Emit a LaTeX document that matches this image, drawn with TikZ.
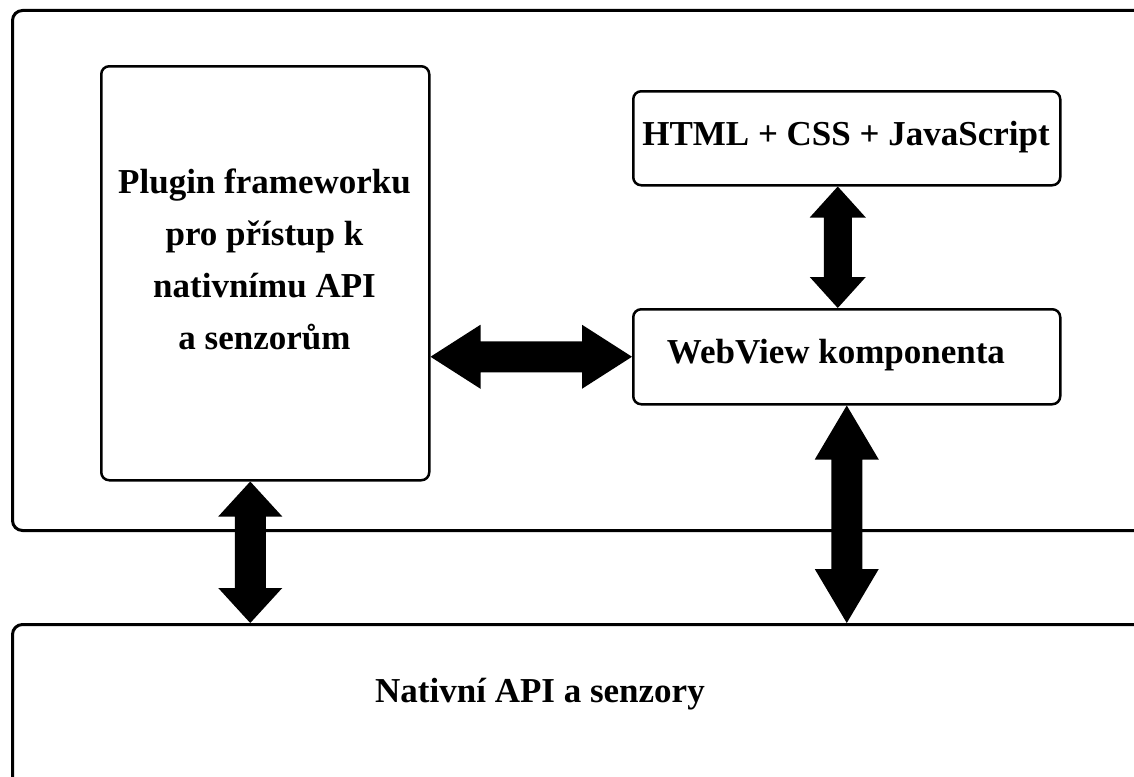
\documentclass[tikz,border=0pt]{standalone}
\usepackage{fontspec}
\setmainfont{Liberation Serif}
\usetikzlibrary{calc}

% Fat double-headed arrow between two points, vertical or horizontal.
% #1 first end, #2 second end, #3 head half width, #4 shaft half width, #5 head length
\newcommand\vbiarrow[5]{%
  \fill let \p1=#1, \p2=#2 in
    (\x1,\y1) -- (\x1+#3,\y1-#5) -- (\x1+#4,\y1-#5) -- (\x1+#4,\y2+#5)
    -- (\x1+#3,\y2+#5) -- (\x1,\y2) -- (\x1-#3,\y2+#5) -- (\x1-#4,\y2+#5)
    -- (\x1-#4,\y1-#5) -- (\x1-#3,\y1-#5) -- cycle;}
\newcommand\hbiarrow[5]{%
  \fill let \p1=#1, \p2=#2 in
    (\x1,\y1) -- (\x1+#5,\y1+#3) -- (\x1+#5,\y1+#4) -- (\x2-#5,\y1+#4)
    -- (\x2-#5,\y1+#3) -- (\x2,\y1) -- (\x2-#5,\y1-#3) -- (\x2-#5,\y1-#4)
    -- (\x1+#5,\y1-#4) -- (\x1+#5,\y1-#3) -- cycle;}

\begin{document}
\begin{tikzpicture}[x=1pt,y=-1pt,
  frame/.style={draw=black, line width=3pt, rounded corners=10pt,
    anchor=north west, inner sep=0pt},
  box/.style={draw=black, line width=2.5pt, rounded corners=8pt,
    anchor=north west, inner sep=0pt},
  lbl/.style={font=\bfseries\fontsize{35}{52}\selectfont, align=center,
    inner sep=0pt, anchor=base}]
\useasboundingbox (0,0) rectangle (1134,776);
\begin{scope}
\clip (0,0) rectangle (1134,776);

% application layer and native layer
\node[frame, minimum width=1139pt, minimum height=520pt] (app) at (11,9) {};
\node[frame, minimum width=1139pt, minimum height=200pt] (native) at (11,623) {};

% inner components
\node[box, minimum width=427pt, minimum height=94pt] (html) at (632,90) {};
\node[box, minimum width=427pt, minimum height=95pt] (wv) at (632,308) {};
\node[box, minimum width=328pt, minimum height=414pt] (plugin) at (100,65) {};

% labels
\node[lbl] (htmltxt) at (846,145) {HTML + CSS + JavaScript};
\node[lbl] (wvtxt) at (836,363) {WebView komponenta};
\node[lbl, anchor=north] (plugintxt) at (264.5,169)
  {Plugin frameworku\\pro přístup k\\nativnímu API\\a senzorům};
\node[lbl] (nattxt) at (540,702) {Nativní API a senzory};

% connectors
\coordinate (hs) at ([xshift=-9pt]html.south);
\coordinate (ps) at ([xshift=-15pt]plugin.south);
\vbiarrow{(hs)}{(hs |- wv.north)}{28pt}{14pt}{31pt}
\hbiarrow{(plugin.east |- wv.west)}{(wv.west)}{32pt}{15.5pt}{50pt}
\vbiarrow{(ps)}{(ps |- native.north)}{32pt}{15.5pt}{35pt}
\vbiarrow{(wv.south)}{(wv.south |- native.north)}{32pt}{15.5pt}{54pt}
\end{scope}
\end{tikzpicture}
\end{document}
